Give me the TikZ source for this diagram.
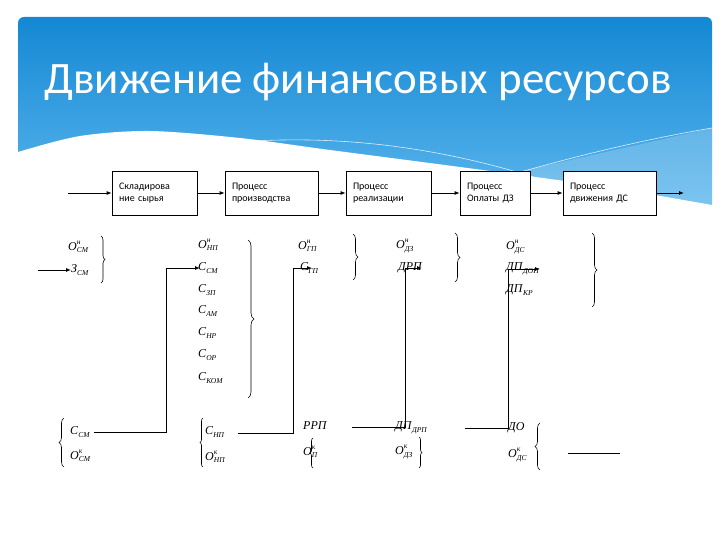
\documentclass[tikz,border=0pt]{standalone}
\usepackage{fontspec}
\setmainfont{Liberation Serif}
\newfontfamily\carl{Carlito}
\usetikzlibrary{decorations.pathreplacing,arrows.meta,calc}
\definecolor{ctop}{RGB}{20,136,212}
\definecolor{cbot}{RGB}{100,188,240}
\newcommand\vv[3]{\textit{#1}\rlap{\raisebox{1.05ex}{\fontsize{7.5}{7.5}\selectfont\textit{#2}}}\raisebox{-0.5ex}{\fontsize{7.5}{7.5}\selectfont\textit{#3}}}
\tikzset{
  sym/.style={font=\fontsize{12}{13}\selectfont, inner sep=0pt, anchor=west},
  proc/.style={draw, line width=0.8pt, minimum height=44pt, align=left, inner xsep=7pt,
    font=\carl\fontsize{10}{12}\selectfont, fill=white},
  flow/.style={line width=0.8pt, -{Latex[length=5pt,width=4pt]}},
  conn/.style={line width=0.9pt},
  carr/.style={line width=0.9pt, -{Latex[length=5pt,width=4pt]}},
  brc/.style={decorate, decoration={brace, amplitude=#1}, line width=0.6pt},
  brc/.default=4pt
}
\begin{document}
\begin{tikzpicture}[x=1pt,y=-1pt]
\useasboundingbox (0,0) rectangle (720,540);
% header panel
\shade[top color=ctop, bottom color=cbot, rounded corners=6pt] (18,230) -- (18,17) -- (712,17) -- (712,230) -- cycle;
\fill[white, opacity=0.2] (500,176) -- (712,128) -- (712,210) -- (600,190) -- cycle;
\draw[white, opacity=0.8, line width=0.6pt] (225,143) .. controls (350,132) and (470,150) .. (600,200);
\draw[white, opacity=0.8, line width=0.6pt] (500,178) .. controls (560,160) and (640,140) .. (712,128);
\fill[white] plot[smooth] coordinates {(712,205) (600,186) (460,167) (330,150) (240,138) (150,131) (80,136) (18,152) (12,156)} -- (5,260) -- (716,260) -- (716,205) -- cycle;
\node[text=white, inner sep=0pt] (title) at (358,82) {\resizebox{627pt}{!}{\carl Движение финансовых ресурсов}};
% process boxes
\node[proc, minimum width=85pt, text width=71pt] (b1) at (154.5,193) {Складирова\\ние сырья};
\node[proc, minimum width=93pt, text width=79pt] (b2) at (271.5,193) {Процесс\\производства};
\node[proc, minimum width=85pt, text width=71pt] (b3) at (388.5,193) {Процесс\\реализации};
\node[proc, minimum width=70pt, text width=56pt] (b4) at (495,193) {Процесс\\Оплаты ДЗ};
\node[proc, minimum width=93pt, text width=79pt] (b5) at (609.5,193) {Процесс\\движения ДС};
\coordinate (in) at (68,193);
\coordinate (out) at (684,193);
\draw[flow] (in) -- (b1);
\draw[flow] (b1) -- (b2);
\draw[flow] (b2) -- (b3);
\draw[flow] (b3) -- (b4);
\draw[flow] (b4) -- (b5);
\draw[flow] (b5) -- (out);
% column 1
\node[sym] (osm) at (68,247) {\vv{O}{н}{СМ}};
\node[sym] (zsm) at (71,270) {\vv{З}{}{СМ}};
\coordinate (zin) at (38,270);
\draw[carr] (zin) -- (zsm.west);
\draw[brc] (101,236) -- (101,283);
% column 2
\node[sym] (onp) at (198,245) {\vv{O}{н}{НП}};
\node[sym] (csm2) at (198,268) {\vv{C}{}{СМ}};
\node[sym] (czp) at (198,290) {\vv{C}{}{ЗП}};
\node[sym] (cam) at (198,311) {\vv{C}{}{АМ}};
\node[sym] (cnr) at (198,333) {\vv{C}{}{НР}};
\node[sym] (cor) at (198,355) {\vv{C}{}{ОР}};
\node[sym] (ckom) at (198,378) {\vv{C}{}{КОМ}};
\draw[brc=6pt] (248,240) -- (248,398);
% column 3
\node[sym] (ogp) at (298,246) {\vv{O}{н}{ГП}};
\node[sym] (cgp) at (300,268) {\vv{C}{}{ГП}};
\draw[brc=5pt] (353,234) -- (353,280);
% column 4
\node[sym] (odz) at (396,246) {\vv{O}{н}{ДЗ}};
\node[sym] (drp) at (398,268) {\textit{ДРП}};
\draw[brc=5pt] (455,233) -- (455,282);
% column 5
\node[sym] (ods) at (506,247) {\vv{O}{н}{ДС}};
\node[sym] (dpdop) at (506,269) {\vv{ДП}{}{ДОП}};
\node[sym] (dpkr) at (506,290) {\vv{ДП}{}{КР}};
\draw[brc=5pt] (592,233) -- (592,307);
% bottom row
\draw[brc=5pt] (64,467) -- (64,418);
\node[sym] (csmB) at (70,432) {\vv{C}{}{СМ}};
\node[sym] (osmB) at (70,456) {\vv{O}{к}{СМ}};
\draw[brc=3pt] (203,467) -- (203,418);
\node[sym] (cnpB) at (205,432) {\vv{C}{}{НП}};
\node[sym] (onpB) at (205,457) {\vv{O}{к}{НП}};
\node[sym] (rrp) at (303,426) {\textit{РРП}};
\node[sym] (opB) at (303,452) {\vv{O}{к}{П}};
\draw[brc=3pt] (313,468) -- (313,438);
\node[sym] (dpdrp) at (395,428) {\vv{ДП}{}{ДРП}};
\node[sym] (odzB) at (395,452) {\vv{O}{к}{ДЗ}};
\draw[brc=3pt] (419,437) -- (419,468);
\node[sym] (do) at (508,428) {\textit{ДО}};
\node[sym] (odsB) at (508,455) {\vv{O}{к}{ДС}};
\draw[brc=5pt] (540,470) -- (540,423);
% connectors
\coordinate (v1) at (166,0);
\draw[carr] ([xshift=4pt]csmB.east) -- (csmB.east -| v1) -- (v1 |- csm2) -- ([xshift=2pt]csm2.west);
\coordinate (s2) at (238,433);
\coordinate (v2) at (293,0);
\draw[carr] (s2) -- (s2 -| v2) -- (v2 |- cgp) -- ([xshift=12pt]cgp.west);
\coordinate (s3) at (352,427);
\coordinate (v3) at (405,0);
\draw[carr] (s3) -- (s3 -| v3) -- (v3 |- drp) -- ([xshift=24pt]drp.west);
\coordinate (s4) at (465,428);
\coordinate (v4) at (508,0);
\draw[carr] (s4) -- (s4 -| v4) -- (v4 |- dpdop) -- ([xshift=34pt]dpdop.west);
\coordinate (e1) at (568,453);
\coordinate (e2) at (620,453);
\draw[conn] (e1) -- (e2);
\end{tikzpicture}
\end{document}
